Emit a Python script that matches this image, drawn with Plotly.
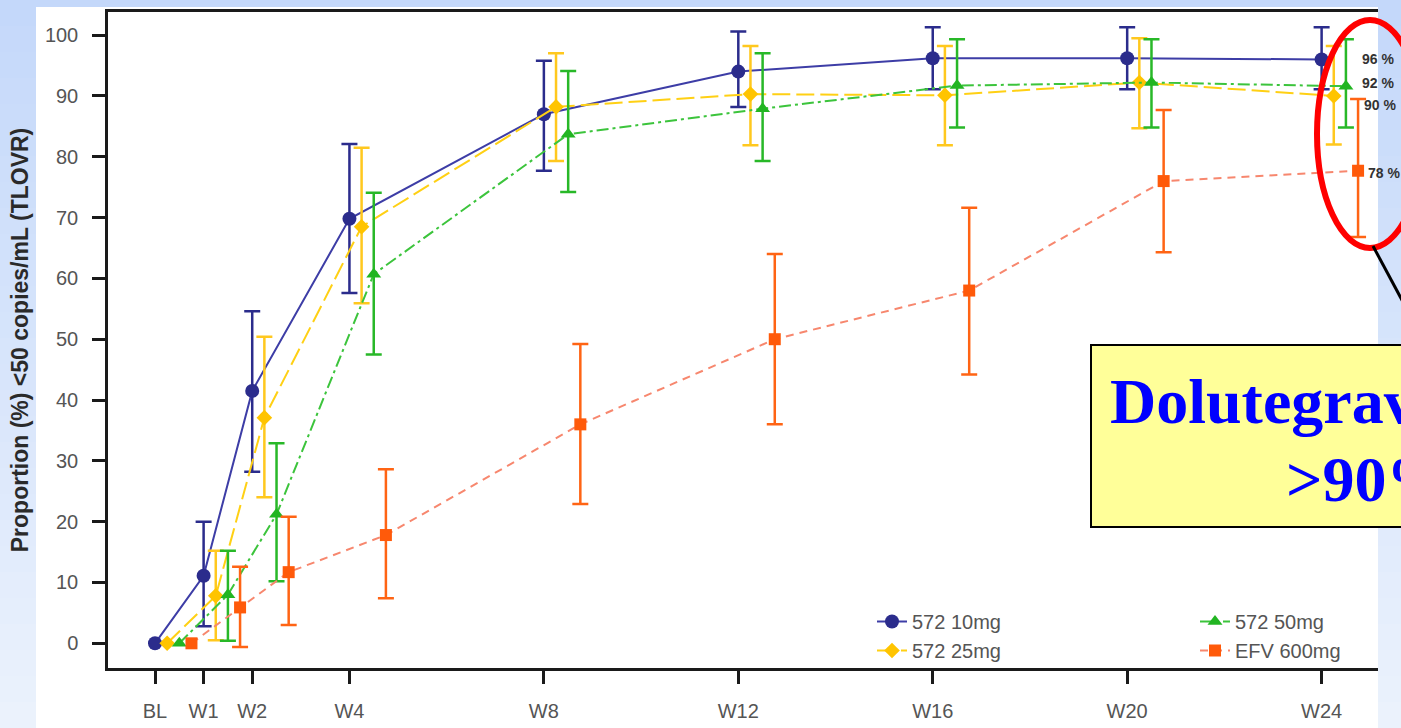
import numpy as np
import plotly.graph_objects as go

# ---------------- data ----------------
weeks = [0, 1, 2, 4, 8, 12, 16, 20, 24]
week_labels = ["BL", "W1", "W2", "W4", "W8", "W12", "W16", "W20", "W24"]

series_names = ["572 10mg", "572 25mg", "572 50mg", "EFV 600mg"]

val_10mg = [0, 11.1, 41.5, 69.8, 87.0, 94.0, 96.2, 96.2, 96.0]
lo_10mg = [np.nan, 2.8, 28.2, 57.6, 77.7, 88.2, 91.1, 91.1, 91.1]
hi_10mg = [np.nan, 20.0, 54.6, 82.1, 95.8, 100.6, 101.3, 101.3, 101.3]

val_25mg = [0, 7.8, 37.1, 68.5, 88.2, 90.3, 90.1, 92.2, 90.0]
lo_25mg = [np.nan, 0.5, 24.0, 55.9, 79.3, 81.9, 81.9, 84.7, 82.0]
hi_25mg = [np.nan, 15.2, 50.4, 81.5, 97.0, 98.2, 98.2, 99.5, 98.2]

val_50mg = [0, 8.0, 21.2, 60.7, 83.7, 87.9, 91.7, 92.2, 91.6]
lo_50mg = [np.nan, 0.4, 10.2, 47.5, 74.2, 79.3, 84.8, 84.8, 84.8]
hi_50mg = [np.nan, 15.2, 32.9, 74.1, 94.1, 97.0, 99.3, 99.3, 99.3]

val_efv = [0, 5.9, 11.7, 17.8, 36.0, 50.0, 58.0, 76.0, 77.7]
lo_efv = [np.nan, -0.6, 3.0, 7.4, 22.9, 36.0, 44.2, 64.3, 66.8]
hi_efv = [np.nan, 12.6, 20.8, 28.6, 49.2, 64.0, 71.6, 87.7, 89.5]

end_labels = ["96 %", "90 %", "92 %", "78 %"]

callout_line1 = "Dolutegravir"
callout_line2 = ">90%"

y_title = "Proportion (%) <50 copies/mL (TLOVR)"

# ---------------- styles ----------------
values = [val_10mg, val_25mg, val_50mg, val_efv]
lows = [lo_10mg, lo_25mg, lo_50mg, lo_efv]
highs = [hi_10mg, hi_25mg, hi_50mg, hi_efv]

x_offsets = [0.0, 0.25, 0.5, 0.75]
marker_colors = ["#2b2c8c", "#ffc400", "#22b522", "#ff5a0a"]
line_colors = ["#3d3da6", "#ffd014", "#3cc43c", "#f7876e"]
err_colors = ["#2b2c8c", "#ffc81e", "#28b828", "#ff6414"]
symbols = ["circle", "diamond", "triangle-up", "square"]
sizes = [14, 12, 13, 12]
dashes = ["solid", "18px,6px", "12px,4px,3px,4px", "8px,6px"]
legend_ids = ["legend", "legend", "legend2", "legend2"]

W_FIG, H_FIG = 1401, 728
PL, PR, PT, PB = 108, 1378, 12, 668
PW, PH = PR - PL, PB - PT


def pxx(x):
    return (x - PL) / PW


def pxy(y):
    return (PB - y) / PH


fig = go.Figure()

for i, name in enumerate(series_names):
    v = np.array(values[i], dtype=float)
    lo = np.array(lows[i], dtype=float)
    hi = np.array(highs[i], dtype=float)
    xs = np.array(weeks, dtype=float) + x_offsets[i]
    fig.add_trace(go.Scatter(
        x=xs, y=v, name=name, mode="lines+markers",
        legend=legend_ids[i],
        line=dict(color=line_colors[i], width=2, dash=dashes[i]),
        marker=dict(color=marker_colors[i], symbol=symbols[i], size=sizes[i],
                    line=dict(width=0)),
        error_y=dict(type="data", symmetric=False, array=hi - v, arrayminus=v - lo,
                     color=err_colors[i], thickness=2.5, width=8),
        cliponaxis=False,
    ))

# end-of-study labels (pixel x of left edge, vertical nudge)
label_px = [1361, 1363, 1361, 1367]
label_shift = [0, -9, 3, -2]
for i, txt in enumerate(end_labels):
    fig.add_annotation(
        x=pxx(label_px[i]), y=values[i][-1], xref="paper", yref="y", text="<b>%s</b>" % txt,
        showarrow=False, xanchor="left", yanchor="middle", yshift=label_shift[i],
        borderpad=0,
        font=dict(family="Liberation Sans, Arial", size=14, color="#333333"),
    )

# ---------------- background decorations ----------------
shapes = []
nb = 28
c_top = np.array([196, 216, 250])
c_bot = np.array([236, 243, 253])
for k in range(nb):
    y0 = k * H_FIG / nb
    y1 = (k + 1) * H_FIG / nb + 1
    c = c_top + (c_bot - c_top) * (k + 0.5) / nb
    shapes.append(dict(type="rect", xref="paper", yref="paper",
                       x0=pxx(0), x1=pxx(W_FIG), y0=pxy(y0), y1=pxy(y1),
                       fillcolor="rgb(%d,%d,%d)" % tuple(c.astype(int)),
                       line=dict(width=0), layer="below"))
shapes.append(dict(type="rect", xref="paper", yref="paper",
                   x0=pxx(36), x1=pxx(1378), y0=pxy(7), y1=pxy(H_FIG + 2),
                   fillcolor="white", line=dict(width=0), layer="below"))
# callout box
shapes.append(dict(type="rect", xref="paper", yref="paper",
                   x0=pxx(1091), x1=pxx(1460), y0=pxy(345), y1=pxy(527),
                   fillcolor="#ffff99", line=dict(color="black", width=2), layer="above"))
# red ellipse
shapes.append(dict(type="circle", xref="paper", yref="paper",
                   x0=pxx(1317), x1=pxx(1423), y0=pxy(20), y1=pxy(248),
                   line=dict(color="#ff0000", width=6), layer="above"))
# pointer
shapes.append(dict(type="line", xref="paper", yref="paper",
                   x0=pxx(1373), y0=pxy(246), x1=pxx(1426), y1=pxy(345),
                   line=dict(color="black", width=3), layer="above"))

fig.add_annotation(x=pxx(1108), y=pxy(401), xref="paper", yref="paper",
                   text="<b>%s</b>" % callout_line1, showarrow=False,
                   xanchor="left", yanchor="middle",
                   font=dict(family="Liberation Serif, Times New Roman", size=64, color="#0000ff"))
fig.add_annotation(x=pxx(1284), y=pxy(479), xref="paper", yref="paper",
                   text="<b>%s</b>" % callout_line2, showarrow=False,
                   xanchor="left", yanchor="middle",
                   font=dict(family="Liberation Serif, Times New Roman", size=64, color="#0000ff"))

axis_font = dict(family="Liberation Sans, Arial", size=20, color="#555555")

fig.update_layout(
    width=W_FIG, height=H_FIG, autosize=False,
    margin=dict(l=PL, r=W_FIG - PR, t=PT, b=H_FIG - PB, pad=0),
    paper_bgcolor="rgb(215,229,251)",
    plot_bgcolor="rgba(0,0,0,0)",
    shapes=shapes,
    showlegend=True,
    legend=dict(x=pxx(872), y=pxy(636), xanchor="left", yanchor="middle",
                bgcolor="rgba(0,0,0,0)", font=axis_font, tracegroupgap=0),
    legend2=dict(x=pxx(1195), y=pxy(636), xanchor="left", yanchor="middle",
                 bgcolor="rgba(0,0,0,0)", font=axis_font, tracegroupgap=0),
    xaxis=dict(range=[-0.967, 25.16], tickvals=weeks, ticktext=week_labels,
               automargin=False,
               showgrid=False, zeroline=False, showline=True, mirror=True,
               linecolor="#1a1a1a", linewidth=2.5,
               ticks="outside", ticklen=13, tickwidth=2.5, tickcolor="#1a1a1a",
               tickfont=axis_font, ticklabelstandoff=10),
    yaxis=dict(range=[-4.06, 103.8], tickvals=list(range(0, 101, 10)),
               automargin=False,
               showgrid=False, zeroline=False, showline=True,
               linecolor="#1a1a1a", linewidth=2.5,
               ticks="outside", ticklen=13, tickwidth=2.5, tickcolor="#1a1a1a",
               tickfont=axis_font, ticklabelstandoff=10,
               title=dict(text="<b>%s</b>" % y_title, standoff=10,
                          font=dict(family="Liberation Sans, Arial", size=23, color="#2a2a2a"))),
)

fig.write_html("out.html",
               config={"displayModeBar": False},
               post_script="document.body.style.margin='0';document.body.style.overflow='hidden';")
